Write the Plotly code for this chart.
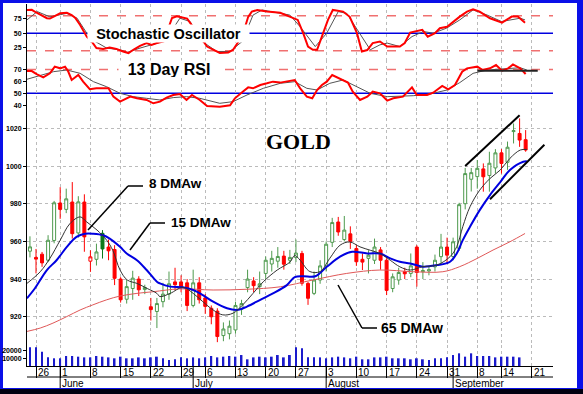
import plotly.graph_objects as go

# ---------------- data ----------------
day_index = list(range(-1, 82))
opens = [954.8, 951.5, 953.2, 950.0, 960.5, 980.4, 977.0, 980.9, 964.5, 980.9,
         949.5, 950.5, 964.3, 957.0, 955.7, 940.0, 929.3, 935.0, 940.0, 934.5,
         925.3, 922.8, 928.0, 932.0, 938.5, 938.5, 938.0, 926.0, 938.0, 930.0,
         924.5, 923.0, 910.0, 911.0, 913.0, 924.0, 935.5, 939.0, 936.0, 943.0,
         948.0, 949.5, 952.2, 950.0, 951.5, 953.6, 937.7, 932.4, 939.5, 947.0,
         959.5, 970.3, 961.0, 964.0, 956.2, 950.5, 951.0, 950.0, 955.5, 950.0,
         935.0, 939.5, 944.0, 943.0, 957.0, 943.9, 944.3, 946.5, 951.9, 957.0,
         952.0, 956.3, 980.0, 993.0, 994.4, 998.5, 995.0, 999.0, 1007.0, 1002.0,
         1018.3, 1017.3, 1014.0]
highs = [962.7, 956.0, 954.4, 963.3, 981.5, 988.8, 988.0, 991.5, 984.0, 985.0,
         955.3, 958.8, 966.0, 961.0, 958.0, 941.0, 939.5, 944.4, 941.5, 937.0,
         930.0, 930.0, 938.0, 944.0, 946.0, 942.0, 940.0, 945.0, 941.0, 932.0,
         926.0, 924.5, 917.0, 918.0, 928.0, 929.0, 945.0, 941.0, 944.0, 952.0,
         955.0, 957.0, 955.0, 955.5, 961.0, 955.0, 938.5, 944.0, 950.0, 960.0,
         972.5, 973.0, 973.5, 968.0, 958.0, 953.6, 955.3, 961.5, 957.0, 951.0,
         943.0, 946.0, 946.0, 953.6, 958.0, 949.0, 946.5, 953.0, 964.0, 962.0,
         962.0, 980.5, 999.0, 999.0, 1003.2, 1001.4, 1007.6, 1009.0, 1009.0, 1013.0,
         1022.6, 1025.3, 1019.1]
lows = [951.5, 943.0, 946.5, 949.0, 959.0, 972.0, 975.0, 961.5, 962.0, 954.5,
        943.8, 947.2, 950.9, 950.0, 936.8, 927.5, 927.0, 929.0, 931.0, 932.0,
        918.0, 914.0, 925.0, 929.0, 934.0, 933.0, 923.0, 925.0, 927.0, 921.5,
        916.0, 906.5, 907.0, 908.0, 911.0, 921.0, 933.0, 933.0, 932.0, 940.0,
        944.0, 946.0, 945.0, 948.0, 949.0, 936.5, 926.3, 931.5, 937.5, 944.0,
        957.0, 963.0, 960.0, 956.0, 947.0, 944.8, 943.0, 948.0, 945.0, 931.5,
        933.0, 937.0, 940.0, 941.0, 936.0, 940.0, 942.0, 944.0, 948.0, 948.0,
        950.0, 955.0, 977.0, 986.5, 988.0, 986.4, 986.4, 996.0, 996.0, 998.0,
        1012.0, 1010.2, 1007.6]
closes = [957.1, 950.6, 948.6, 960.6, 980.5, 977.0, 982.6, 964.1, 981.0, 962.4,
          951.8, 954.4, 956.0, 955.0, 940.4, 929.0, 936.0, 940.5, 934.3, 935.5,
          923.8, 927.0, 932.0, 937.5, 937.0, 936.0, 926.0, 938.0, 929.0, 925.5,
          920.0, 909.5, 913.5, 915.0, 926.0, 927.0, 940.0, 936.5, 937.5, 950.0,
          951.0, 952.0, 947.9, 951.5, 953.8, 937.8, 929.8, 939.5, 947.0, 958.5,
          970.0, 965.0, 966.0, 960.0, 949.2, 949.0, 952.7, 957.0, 950.0, 934.0,
          941.2, 943.5, 942.8, 947.0, 943.5, 944.5, 945.0, 950.0, 957.0, 952.7,
          959.8, 979.5, 996.0, 996.5, 998.8, 994.3, 1001.5, 1007.0, 1001.4, 1010.0,
          1018.8, 1013.8, 1008.5]

vol_index = list(range(-1, 81))
volume = [24000, 24000, 18400, 11100, 9900, 9900, 12900, 12900, 12000, 11100,
          11100, 12900, 12000, 11100, 9900, 12000, 9900, 9900, 11100, 9900,
          11100, 12000, 9900, 7700, 8600, 11100, 9900, 11100, 9900, 11100,
          12900, 11100, 12000, 12900, 12000, 14100, 8600, 11100, 12000, 11100,
          12000, 14100, 11100, 14100, 24000, 22700, 11100, 11100, 11100, 9900,
          11100, 12000, 11100, 9900, 12000, 8600, 8600, 11100, 11100, 12000,
          9900, 9900, 9900, 8600, 9900, 8600, 7700, 9900, 9900, 11100,
          14100, 16300, 12000, 16300, 12900, 12900, 12900, 11100, 12000, 12000,
          12000, 11100]

ma8_x = [-1.5, 0.7, 2.3, 4.0, 5.6, 7.3, 8.4, 10.1, 11.7, 12.7, 13.9, 15.1, 16.7, 18.4,
         20.0, 20.5, 22.2, 24.3, 26.0, 27.6, 29.3, 30.9, 32.6, 34.2, 35.9, 37.6, 39.9,
         42.0, 42.8, 43.7, 45.3, 47.0, 48.6, 50.3, 51.9, 53.6, 55.3, 56.9, 58.6, 60.2,
         61.9, 64.0, 66.3, 68.5, 69.6, 70.6, 71.8, 73.4, 75.1, 76.8, 78.4, 80.1, 81.2]
ma8_y = [937.7, 943.9, 951.0, 960.6, 969.4, 973.0, 970.3, 966.0, 960.6, 955.3, 944.8,
         939.5, 937.7, 935.0, 932.4, 930.7, 932.4, 935.6, 932.4, 928.0, 923.6, 921.0,
         921.9, 926.3, 932.4, 938.6, 944.8, 949.0, 952.5, 950.0, 944.0, 944.0, 951.0,
         958.0, 959.7, 957.1, 955.3, 953.6, 950.0, 946.5, 944.8, 946.6, 947.4, 951.9,
         957.2, 967.8, 978.4, 987.2, 993.4, 997.9, 1004.1, 1008.5, 1008.8]

ma15_x = [-1.5, -0.2, 1.8, 3.4, 5.1, 6.7, 8.1, 9.5, 11.1, 12.2, 13.9, 15.0, 16.7, 18.3,
          20.0, 20.5, 22.2, 24.3, 26.0, 27.6, 29.3, 31.6, 33.3, 34.9, 37.1, 39.2, 41.5,
          42.8, 44.2, 46.2, 48.1, 50.3, 52.3, 54.8, 56.9, 58.6, 60.2, 61.9, 64.0, 66.3,
          68.5, 69.6, 70.6, 71.8, 73.4, 75.1, 76.8, 78.4, 80.6, 81.2]
ma15_y = [929.8, 935.0, 944.8, 950.0, 957.1, 962.4, 964.1, 964.1, 963.3, 961.5, 957.1,
          953.6, 950.0, 944.8, 938.6, 937.7, 936.0, 935.6, 934.2, 931.5, 928.0, 924.5,
          923.6, 925.4, 929.0, 932.4, 936.8, 941.0, 941.5, 941.5, 946.5, 951.9, 954.5,
          953.6, 953.6, 951.0, 949.2, 948.3, 946.6, 947.4, 949.2, 953.6, 960.7, 967.8,
          976.6, 984.6, 991.5, 997.9, 1002.3, 1002.5]

ma65_x = [-1.5, 0.7, 2.8, 5.1, 7.3, 9.4, 11.7, 13.9, 16.7, 19.4, 23.8, 29.3, 34.9,
          40.4, 45.8, 51.4, 56.9, 62.4, 67.3, 70.1, 73.0, 75.6, 78.4, 80.9]
ma65_y = [912.2, 914.0, 916.6, 920.1, 923.6, 926.3, 929.0, 931.0, 932.4, 933.3, 934.8,
          934.2, 934.6, 935.9, 939.5, 943.0, 944.8, 943.9, 943.9, 946.6, 951.0, 955.4,
          959.8, 964.2]

stoch_k_x = [-1.5, -0.7, 0.1, 0.9, 1.8, 2.3, 3.1, 4.0, 5.1, 5.9, 6.5, 7.3, 8.4, 9.2,
             10.0, 11.1, 12.2, 13.3, 14.4, 15.3, 16.1, 17.2, 18.3, 19.1, 20.0, 21.1,
             22.5, 23.3, 24.2, 25.0, 28.3, 29.3, 30.4, 31.8, 32.6, 33.7, 34.6, 35.1,
             35.7, 36.6, 38.2, 40.4, 42.0, 43.3, 44.2, 45.0, 45.8, 46.5, 47.5, 48.3,
             49.1, 50.8, 51.9, 53.1, 53.9, 54.8, 55.7, 56.9, 58.1, 59.1, 60.2, 61.0,
             61.9, 63.9, 64.8, 66.0, 66.8, 68.0, 69.0, 70.1, 71.3, 72.3, 73.4, 75.1,
             77.1, 78.7, 79.7, 80.9]
stoch_k = [89.8, 90.0, 85.0, 81.0, 75.6, 75.0, 79.5, 84.0, 85.0, 81.0, 76.0, 64.0, 44.0,
           35.7, 24.4, 22.7, 25.4, 23.0, 18.6, 15.9, 21.5, 28.3, 33.0, 30.0, 33.0, 35.7,
           76.0, 79.0, 77.0, 75.0, 27.0, 21.5, 16.0, 17.0, 21.5, 38.6, 61.0, 78.0, 86.9,
           89.8, 87.0, 85.0, 78.5, 72.7, 50.0, 27.0, 21.5, 21.5, 50.0, 72.7, 89.8, 87.0,
           78.0, 50.0, 18.6, 21.0, 33.0, 35.7, 27.0, 27.0, 27.0, 33.0, 51.0, 55.7, 44.0,
           50.0, 58.5, 61.0, 70.0, 78.4, 87.0, 91.0, 87.0, 75.6, 68.0, 78.4, 78.4, 68.0]

stoch_d_x = [-1.5, 0.2, 2.3, 5.1, 6.8, 8.4, 9.8, 11.7, 13.9, 15.1, 17.2, 19.4, 21.0,
             22.5, 23.8, 25.5, 27.1, 29.9, 32.1, 34.1, 35.9, 37.4, 42.0, 43.7, 46.2,
             48.1, 50.0, 51.4, 53.6, 55.3, 56.9, 58.1, 60.2, 62.2, 64.1, 65.7, 67.9,
             70.1, 72.3, 74.6, 77.0, 80.1, 80.9]
stoch_d = [72.7, 87.0, 78.0, 84.0, 75.6, 50.0, 35.7, 24.4, 21.5, 17.0, 24.4, 31.7, 35.7,
           55.0, 75.6, 70.0, 38.6, 18.6, 18.6, 35.7, 81.0, 89.8, 81.0, 61.0, 27.0, 50.0,
           87.0, 84.0, 50.0, 21.5, 30.0, 33.0, 27.0, 44.2, 52.8, 50.0, 58.5, 72.7, 89.8,
           81.2, 70.0, 75.6, 72.7]

rsi_x = [-1.5, -0.7, 0.1, 1.2, 2.3, 3.1, 4.0, 4.8, 5.3, 5.9, 7.0, 7.8, 8.9, 10.0, 12.0,
         12.8, 13.9, 15.6, 16.7, 18.3, 19.4, 20.5, 21.6, 22.7, 23.8, 24.9, 25.8, 27.1,
         28.3, 29.3, 30.4, 32.1, 32.9, 34.2, 35.1, 35.9, 37.1, 38.2, 39.2, 40.4, 41.5,
         42.8, 43.7, 44.8, 45.7, 46.5, 47.3, 48.1, 49.0, 49.8, 50.8, 51.6, 52.4, 53.6,
         54.8, 55.7, 56.9, 58.1, 59.1, 60.2, 60.7, 62.2, 63.0, 64.7, 65.7, 67.2, 68.2,
         69.3, 70.5, 71.3, 73.0, 73.9, 75.1, 76.1, 77.1, 78.1, 78.9, 80.1, 81.0]
rsi = [68.7, 68.7, 66.2, 63.4, 66.8, 72.4, 71.0, 72.4, 68.7, 61.2, 65.4, 59.8, 53.4, 54.2,
       54.2, 47.2, 43.0, 47.2, 45.8, 44.4, 41.6, 43.0, 46.4, 48.6, 49.4, 44.4, 48.6, 44.4,
       39.3, 39.3, 38.7, 40.0, 45.8, 51.4, 55.0, 54.2, 57.0, 58.4, 59.8, 59.0, 59.8, 61.2,
       54.2, 47.2, 45.8, 52.8, 57.0, 59.8, 65.4, 63.4, 61.2, 59.0, 51.4, 44.4, 47.2, 51.4,
       50.0, 43.9, 45.8, 47.2, 47.2, 55.0, 48.6, 48.6, 50.5, 56.2, 53.4, 57.0, 68.2, 71.0,
       72.4, 69.6, 71.0, 73.8, 69.0, 71.0, 74.3, 71.0, 66.2]

rsi_sig_x = [-1.5, 0.7, 2.9, 5.1, 7.3, 9.5, 11.7, 13.9, 16.1, 18.3, 20.5, 22.7, 24.9,
             27.1, 30.4, 32.6, 34.9, 37.6, 40.4, 42.8, 44.8, 46.5, 48.6, 50.8, 53.1,
             55.3, 58.1, 59.7, 62.4, 65.2, 68.0, 70.1, 72.3, 74.6, 77.9, 80.1, 81.2]
rsi_sig = [61.8, 64.7, 68.2, 69.6, 66.8, 59.8, 55.5, 50.0, 47.2, 45.8, 44.4, 46.4, 47.2,
           45.8, 41.6, 43.0, 48.6, 54.2, 58.4, 59.8, 54.2, 52.8, 58.4, 61.2, 55.5, 50.0,
           47.2, 47.5, 48.0, 49.4, 52.8, 59.0, 66.8, 69.6, 71.0, 71.5, 69.6]

week_ticks = [0, 4, 9, 14, 19, 24, 28, 33, 38, 43, 48, 53, 58, 63, 68, 73, 77, 82]
week_labels = ['26', '1', '8', '15', '22', '29', '6', '13', '20', '27', '3', '10',
               '17', '24', '31', '8', '14', '21']
month_starts = [4, 26, 48, 69]
month_labels = ['June', 'July', 'August', 'September']

price_ticks = [920, 940, 960, 980, 1000, 1020]
stoch_ticks = [25, 50, 75]
rsi_ticks = [40, 50, 60, 70]
vol_ticks = [10000, 20000]
vol_tick_text = ['10000', '20000']

# ---------------- geometry helpers ----------------
W, H = 583, 394
ML, MR, MT, MB = 27, 30, 4, 28
PW, PH = W - ML - MR, H - MT - MB
X0_PIX, DAY_PIX = 36.0, 6.045


def px(x):
    return (x - ML) / PW


def py(y):
    return (H - MB - y) / PH


XMIN = (ML - X0_PIX) / DAY_PIX
XMAX = (W - MR - X0_PIX) / DAY_PIX

GREEN = '#4E9A4E'
DKGREEN = '#0B7A1A'
RED = '#FF0000'
BLUE = '#0000E0'
FONT = 'Liberation Sans, Arial, sans-serif'

# candle colouring: green when close >= previous close, red otherwise
prev_close = [closes[0]] + closes[:-1]
up_k = [k for k in range(len(closes)) if closes[k] >= prev_close[k]]
dn_k = [k for k in range(len(closes)) if closes[k] < prev_close[k]]


def pick(arr, ks):
    return [arr[k] for k in ks]


fig = go.Figure()

fig.add_trace(go.Candlestick(
    x=pick(day_index, up_k), open=pick(opens, up_k), high=pick(highs, up_k),
    low=pick(lows, up_k), close=pick(closes, up_k),
    increasing=dict(line=dict(color=GREEN, width=1), fillcolor='white'),
    decreasing=dict(line=dict(color=DKGREEN, width=1), fillcolor=DKGREEN),
    whiskerwidth=0, xaxis='x', yaxis='y3', hoverinfo='skip', showlegend=False))
fig.add_trace(go.Candlestick(
    x=pick(day_index, dn_k), open=pick(opens, dn_k), high=pick(highs, dn_k),
    low=pick(lows, dn_k), close=pick(closes, dn_k),
    increasing=dict(line=dict(color=RED, width=1), fillcolor='white'),
    decreasing=dict(line=dict(color=RED, width=1), fillcolor=RED),
    whiskerwidth=0, xaxis='x', yaxis='y3', hoverinfo='skip', showlegend=False))

fig.add_trace(go.Scatter(x=ma65_x, y=ma65_y, mode='lines', line=dict(color='#E05858', width=1, shape='spline'),
                         xaxis='x', yaxis='y3', showlegend=False, hoverinfo='skip'))
fig.add_trace(go.Scatter(x=ma15_x, y=ma15_y, mode='lines', line=dict(color=BLUE, width=2, shape='spline'),
                         xaxis='x', yaxis='y3', showlegend=False, hoverinfo='skip'))
fig.add_trace(go.Scatter(x=ma8_x, y=ma8_y, mode='lines', line=dict(color='#333333', width=1, shape='spline'),
                         xaxis='x', yaxis='y3', showlegend=False, hoverinfo='skip'))

fig.add_trace(go.Scatter(x=stoch_d_x, y=stoch_d, mode='lines', line=dict(color='#555555', width=1),
                         xaxis='x', yaxis='y', showlegend=False, hoverinfo='skip'))
fig.add_trace(go.Scatter(x=stoch_k_x, y=stoch_k, mode='lines', line=dict(color=RED, width=2),
                         xaxis='x', yaxis='y', showlegend=False, hoverinfo='skip'))
fig.add_trace(go.Scatter(x=rsi_sig_x, y=rsi_sig, mode='lines', line=dict(color='#555555', width=1),
                         xaxis='x', yaxis='y2', showlegend=False, hoverinfo='skip'))
fig.add_trace(go.Scatter(x=rsi_x, y=rsi, mode='lines', line=dict(color=RED, width=2),
                         xaxis='x', yaxis='y2', showlegend=False, hoverinfo='skip'))

fig.add_trace(go.Bar(x=vol_index, y=volume, width=0.3, marker=dict(color='#1A1ACC', line=dict(width=0)),
                     xaxis='x', yaxis='y4', showlegend=False, hoverinfo='skip'))

tickfont = dict(family=FONT, size=7, color='black', weight='bold')
common_y = dict(showline=True, linecolor='black', linewidth=1, ticks='outside', ticklen=3,
                tickcolor='black', tickfont=tickfont, zeroline=False, fixedrange=True)

d_stoch = [py(60), 1.0]
d_rsi = [py(112), py(60)]
d_price = [py(345), py(112)]
d_vol = [0.0, py(345)]

layout = dict(
    width=W, height=H, margin=dict(l=ML, r=MR, t=MT, b=MB, autoexpand=False),
    paper_bgcolor='#0A10E8', plot_bgcolor='rgba(0,0,0,0)',
    showlegend=False, boxmode='overlay',
    xaxis=dict(domain=[0, 1], range=[XMIN, XMAX], anchor='y4', tickvals=week_ticks,
               showticklabels=False, ticks='outside', ticklen=11, tickcolor='black',
               showgrid=True, gridcolor='#BBBBBB', griddash='dot', gridwidth=1,
               showline=True, linecolor='black', zeroline=False,
               rangeslider=dict(visible=False), fixedrange=True),
    yaxis=dict(domain=d_stoch, range=[4, 100], tickvals=stoch_ticks, showgrid=False, anchor='x', **common_y),
    yaxis2=dict(domain=d_rsi, range=[34.3, 78], tickvals=rsi_ticks, showgrid=False, anchor='x', **common_y),
    yaxis3=dict(domain=d_price, range=[905, 1028.7], tickvals=price_ticks, showgrid=True,
                gridcolor='#BBBBBB', griddash='dot', anchor='x', **common_y),
    yaxis4=dict(domain=d_vol, range=[0, 27000], tickvals=vol_ticks, ticktext=vol_tick_text,
                showgrid=False, anchor='x', **common_y),
    yaxis5=dict(overlaying='y', side='right', range=[4, 100], tickvals=stoch_ticks, showgrid=False, anchor='x', **common_y),
    yaxis6=dict(overlaying='y2', side='right', range=[34.3, 78], tickvals=rsi_ticks, showgrid=False, anchor='x', **common_y),
    yaxis7=dict(overlaying='y3', side='right', range=[905, 1028.7], tickvals=price_ticks, showgrid=False, anchor='x', **common_y),
    yaxis8=dict(overlaying='y4', side='right', range=[0, 27000], tickvals=vol_ticks, ticktext=vol_tick_text,
                showgrid=False, anchor='x', **common_y),
)
fig.update_layout(**layout)

shapes = []
# white card inside the blue frame and dark bottom strip
shapes.append(dict(type='rect', xref='paper', yref='paper', x0=px(3), x1=px(577), y0=py(388), y1=py(3),
                   fillcolor='white', line=dict(width=0), layer='below'))
shapes.append(dict(type='rect', xref='paper', yref='paper', x0=px(-2), x1=px(590), y0=py(400), y1=py(389),
                   fillcolor='#000010', line=dict(width=0), layer='below'))
# oscillator reference lines
for lvl in (80, 20):
    shapes.append(dict(type='line', xref='paper', yref='y', x0=0, x1=1, y0=lvl, y1=lvl,
                       line=dict(color='#F07070', width=1.5, dash='dash'), layer='below'))
shapes.append(dict(type='line', xref='paper', yref='y', x0=0, x1=1, y0=50, y1=50,
                   line=dict(color=BLUE, width=1.5), layer='below'))
shapes.append(dict(type='line', xref='paper', yref='y2', x0=0, x1=1, y0=70, y1=70,
                   line=dict(color='#F07070', width=1.5, dash='dash'), layer='below'))
shapes.append(dict(type='line', xref='paper', yref='y2', x0=0, x1=1, y0=50, y1=50,
                   line=dict(color=BLUE, width=1.5), layer='below'))
# RSI flat marker line
shapes.append(dict(type='line', xref='x', yref='y2', x0=73, x1=83, y0=69, y1=69,
                   line=dict(color='#222222', width=2)))
# price channel lines
shapes.append(dict(type='line', xref='x', yref='y3', x0=71, x1=80, y0=1000, y1=1027,
                   line=dict(color='black', width=2)))
shapes.append(dict(type='line', xref='x', yref='y3', x0=75.1, x1=84.1, y0=982.4, y1=1011.3,
                   line=dict(color='black', width=2)))
# label leader lines
for (xa, ya, xb, yb) in [(128, 186, 143, 186), (128, 186, 88, 230),
                         (150, 223, 165, 223), (150, 223, 130, 250),
                         (362, 328, 377, 328), (362, 328, 338, 285)]:
    shapes.append(dict(type='line', xref='paper', yref='paper', x0=px(xa), y0=py(ya), x1=px(xb), y1=py(yb),
                       line=dict(color='black', width=1.5)))
# date axis: row divider and month separators
shapes.append(dict(type='line', xref='paper', yref='paper', x0=0, x1=1, y0=py(377), y1=py(377),
                   line=dict(color='black', width=1)))
for m in month_starts:
    shapes.append(dict(type='line', xref='x', yref='paper', x0=m, x1=m, y0=py(366), y1=py(388),
                       line=dict(color='black', width=1)))
fig.update_layout(shapes=shapes)

ann = []
ann.append(dict(text='<b>GOLD</b>', x=px(298), y=py(141), xref='paper', yref='paper', showarrow=False,
                xanchor='center', yanchor='middle',
                font=dict(family='Liberation Serif, Times New Roman, serif', size=22, color='black')))
ann.append(dict(text='Stochastic Oscillator', x=px(168.5), y=py(33.5), xref='paper', yref='paper',
                showarrow=False, width=161, height=17, bgcolor='white', borderpad=0,
                xanchor='center', yanchor='middle',
                font=dict(family=FONT, size=14.5, color='black', weight='bold')))
ann.append(dict(text='13 Day RSI', x=px(169), y=py(69), xref='paper', yref='paper',
                showarrow=False, width=100, height=16, bgcolor='white', borderpad=0,
                xanchor='center', yanchor='middle',
                font=dict(family=FONT, size=16, color='black', weight='bold')))
for (t, xl, yc, sz) in [('8 DMAw', 147, 184, 13.5), ('15 DMAw', 169, 222, 13.5), ('65 DMAw', 379, 328, 14)]:
    ann.append(dict(text=t, x=px(xl), y=py(yc), xref='paper', yref='paper', xanchor='left', yanchor='middle',
                    showarrow=False, font=dict(family=FONT, size=sz, color='black', weight='bold')))
for tv, tl in zip(week_ticks, week_labels):
    ann.append(dict(text=tl, x=tv, y=py(372), xref='x', yref='paper', xanchor='left', yanchor='middle',
                    xshift=0, showarrow=False, font=dict(family=FONT, size=10, color='black')))
for ms, ml in zip(month_starts, month_labels):
    ann.append(dict(text=ml, x=ms, y=py(383), xref='x', yref='paper', xanchor='left', yanchor='middle',
                    xshift=0, showarrow=False, font=dict(family=FONT, size=10, color='black')))
fig.update_layout(annotations=ann)

fig.write_html('out.html', config={'displayModeBar': False},
               post_script="document.body.style.margin='0';document.body.style.overflow='hidden';")
